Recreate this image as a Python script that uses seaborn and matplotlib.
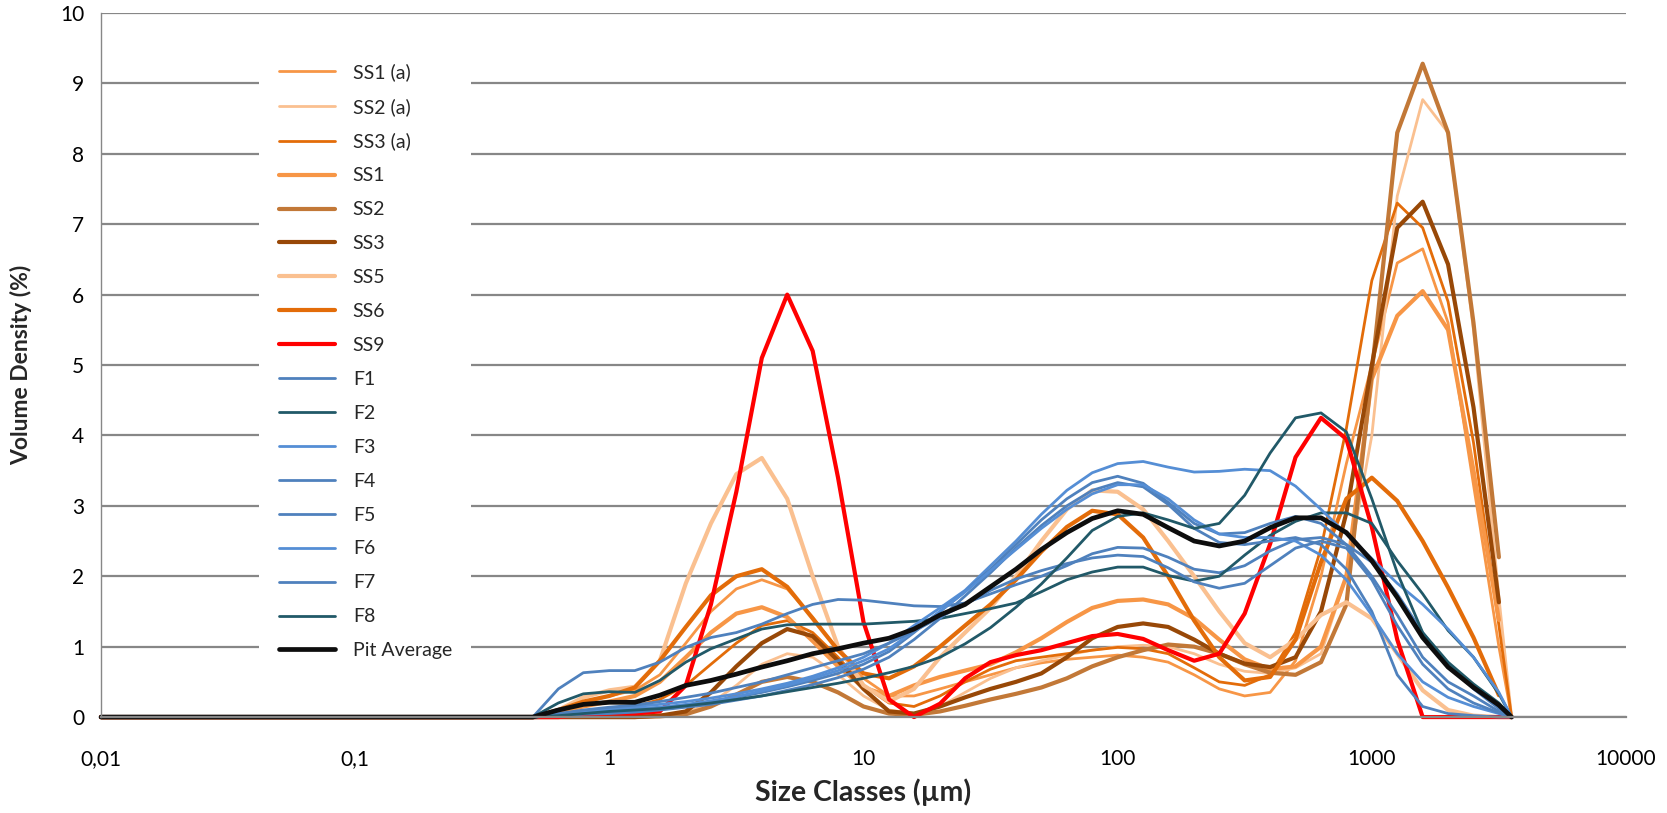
import numpy as np
import pandas as pd
import matplotlib
matplotlib.use("Agg")
import matplotlib.pyplot as plt
from matplotlib.ticker import NullLocator
import seaborn as sns

nan = np.nan

# size classes (µm)
size_classes = [0.01, 0.5, 0.63, 0.79,
                1.0, 1.26, 1.58, 2.0, 2.51, 3.16, 3.98, 5.01, 6.31, 7.94,
                10.0, 12.6, 15.8, 20.0, 25.1, 31.6, 39.8, 50.1, 63.1, 79.4,
                100, 126, 158, 200, 251, 316, 398, 501, 631, 794,
                1000, 1259, 1585, 1995, 2512, 3162, 3548]

# volume density (%)
ss1a = [0, 0, 0.08, 0.2,
        0.3, 0.38, 0.6, 1.05, 1.5, 1.82, 1.95, 1.82, 1.42, 0.95,
        0.55, 0.3, 0.3, 0.4, 0.5, 0.6, 0.7, 0.77, 0.82, 0.85,
        0.88, 0.85, 0.78, 0.6, 0.4, 0.3, 0.35, 0.8, 2.0, 3.6,
        5.0, 6.45, 6.65, 5.6, 3.3, 1.0, 0]
ss2a = [0, 0, 0, 0,
        0, 0.02, 0.03, 0.06, 0.2, 0.45, 0.75, 0.9, 0.85, 0.6,
        0.3, 0.1, 0.05, 0.15, 0.35, 0.55, 0.7, 0.8, 0.88, 0.95,
        1.0, 1.02, 1.0, 0.9, 0.75, 0.65, 0.62, 0.7, 0.9, 2.0,
        4.0, 7.4, 8.77, 8.3, 5.5, 1.7, 0]
ss3a = [0, 0, 0.03, 0.06,
        0.1, 0.15, 0.25, 0.45, 0.75, 1.05, 1.3, 1.37, 1.2, 0.85,
        0.45, 0.2, 0.15, 0.3, 0.5, 0.68, 0.8, 0.85, 0.9, 0.95,
        0.99, 0.97, 0.9, 0.7, 0.5, 0.45, 0.6, 1.2, 2.4, 4.1,
        6.2, 7.3, 6.95, 5.9, 3.9, 1.3, 0]
ss1 = [0, 0, 0.07, 0.15,
       0.22, 0.3, 0.5, 0.85, 1.2, 1.47, 1.56, 1.42, 1.08, 0.72,
       0.42, 0.3, 0.45, 0.57, 0.66, 0.75, 0.92, 1.12, 1.35, 1.55,
       1.65, 1.67, 1.6, 1.4, 1.1, 0.82, 0.68, 0.72, 1.0, 2.0,
       4.8, 5.7, 6.05, 5.5, 3.5, 1.38, nan]
ss2 = [0, 0, 0, 0,
       0, 0, 0.01, 0.04, 0.15, 0.32, 0.5, 0.57, 0.5, 0.35,
       0.15, 0.05, 0.03, 0.08, 0.16, 0.25, 0.33, 0.42, 0.55, 0.72,
       0.85, 0.95, 1.03, 1.0, 0.9, 0.75, 0.63, 0.6, 0.78, 1.6,
       4.9, 8.3, 9.28, 8.3, 5.6, 2.27, nan]
ss3 = [0, 0, 0, 0,
       0, 0, 0.02, 0.08, 0.35, 0.72, 1.05, 1.25, 1.15, 0.8,
       0.4, 0.08, 0.05, 0.15, 0.28, 0.4, 0.5, 0.62, 0.85, 1.12,
       1.28, 1.33, 1.28, 1.1, 0.9, 0.76, 0.71, 0.85, 1.5, 2.9,
       5.0, 6.95, 7.32, 6.43, 4.4, 1.63, nan]
ss5 = [0, 0, 0.1, 0.28,
       0.38, 0.43, 0.8, 1.9, 2.75, 3.45, 3.68, 3.1, 2.0, 1.0,
       0.45, 0.22, 0.4, 0.85, 1.2, 1.55, 2.0, 2.5, 2.95, 3.22,
       3.2, 2.95, 2.5, 2.0, 1.5, 1.05, 0.85, 1.1, 1.45, 1.63,
       1.4, 0.9, 0.38, 0.1, 0.02, 0, 0]
ss6 = [0, 0, 0.1, 0.22,
       0.3, 0.42, 0.8, 1.28, 1.73, 2.0, 2.1, 1.85, 1.4, 0.95,
       0.62, 0.55, 0.72, 1.0, 1.3, 1.6, 1.95, 2.35, 2.7, 2.93,
       2.88, 2.55, 2.0, 1.37, 0.85, 0.52, 0.57, 1.1, 2.2, 3.1,
       3.4, 3.07, 2.5, 1.84, 1.13, 0.31, nan]
ss9 = [0, 0, 0, 0.03,
       0.05, 0.05, 0.08, 0.45, 1.6, 3.2, 5.1, 6.0, 5.2, 3.4,
       1.35, 0.25, 0, 0.19, 0.55, 0.78, 0.88, 0.95, 1.05, 1.15,
       1.18, 1.11, 0.95, 0.8, 0.9, 1.47, 2.46, 3.69, 4.25, 3.95,
       2.7, 1.1, 0, 0, 0, 0, 0]
f1 = [0, 0, 0.4, 0.63,
      0.66, 0.66, 0.78, 0.99, 1.13, 1.2, 1.32, 1.47, 1.6, 1.67,
      1.66, 1.62, 1.58, 1.57, 1.62, 1.75, 1.88, 2.0, 2.15, 2.32,
      2.41, 2.4, 2.27, 2.1, 2.05, 2.15, 2.36, 2.52, 2.55, 2.45,
      2.2, 1.75, 1.2, 0.75, 0.4, 0.12, 0]
f2 = [0, 0, 0.2, 0.33,
      0.36, 0.35, 0.52, 0.78, 0.97, 1.11, 1.25, 1.31, 1.32, 1.32,
      1.32, 1.34, 1.36, 1.4, 1.47, 1.54, 1.62, 1.78, 1.95, 2.06,
      2.13, 2.13, 2.01, 1.93, 2.0, 2.3, 2.58, 2.78, 2.9, 2.9,
      2.75, 2.22, 1.75, 1.23, 0.85, 0.33, 0]
f3 = [0, 0, 0.04, 0.08,
      0.12, 0.15, 0.18, 0.22, 0.27, 0.33, 0.4, 0.48, 0.58, 0.7,
      0.85, 1.05, 1.3, 1.55, 1.8, 2.15, 2.5, 2.88, 3.22, 3.47,
      3.6, 3.63, 3.55, 3.48, 3.49, 3.52, 3.5, 3.28, 2.95, 2.6,
      2.25, 1.9, 1.6, 1.25, 0.85, 0.35, 0]
f4 = [0, 0, 0.03, 0.06,
      0.08, 0.1, 0.12, 0.16, 0.22, 0.28, 0.35, 0.43, 0.52, 0.62,
      0.75, 0.93, 1.2, 1.5, 1.78, 2.1, 2.45, 2.8, 3.1, 3.33,
      3.42, 3.32, 3.05, 2.75, 2.6, 2.62, 2.75, 2.85, 2.75, 2.45,
      2.0, 1.45, 0.85, 0.5, 0.3, 0.08, 0]
f5 = [0, 0, 0.02, 0.04,
      0.05, 0.07, 0.1, 0.14, 0.18, 0.24, 0.3, 0.38, 0.46, 0.56,
      0.68, 0.85, 1.1, 1.4, 1.72, 2.05, 2.4, 2.72, 3.0, 3.22,
      3.33, 3.27, 3.02, 2.68, 2.48, 2.45, 2.5, 2.55, 2.45, 2.1,
      1.5, 0.6, 0.15, 0.05, 0.02, 0, 0]
f6 = [0, 0, 0.03, 0.07,
      0.1, 0.12, 0.14, 0.18, 0.23, 0.29, 0.37, 0.45, 0.55, 0.66,
      0.8, 0.97, 1.22, 1.5, 1.78, 2.08, 2.38, 2.68, 2.95, 3.17,
      3.3, 3.3, 3.1, 2.8, 2.6, 2.55, 2.55, 2.5, 2.3, 1.95,
      1.45, 0.9, 0.5, 0.28, 0.15, 0.05, 0]
f7 = [0, 0, 0.05, 0.1,
      0.14, 0.17, 0.22, 0.28, 0.34, 0.42, 0.5, 0.6, 0.7, 0.8,
      0.9, 1.05, 1.22, 1.42, 1.6, 1.8, 1.96, 2.08, 2.18, 2.26,
      2.3, 2.28, 2.12, 1.92, 1.83, 1.9, 2.15, 2.4, 2.5, 2.4,
      1.95, 1.3, 0.75, 0.4, 0.2, 0.06, 0]
f8 = [0, 0, 0.02, 0.05,
      0.08, 0.1, 0.12, 0.16, 0.2, 0.25, 0.3, 0.36, 0.42, 0.48,
      0.55, 0.63, 0.72, 0.85, 1.04, 1.27, 1.56, 1.89, 2.26, 2.65,
      2.85, 2.9, 2.8, 2.68, 2.75, 3.15, 3.75, 4.25, 4.32, 4.05,
      3.1, 2.05, 1.2, 0.78, 0.47, 0.2, 0]
pit_avg = [0, 0, 0.1, 0.18,
           0.21, 0.21, 0.31, 0.45, 0.52, 0.61, 0.71, 0.8, 0.9, 0.97,
           1.05, 1.12, 1.25, 1.45, 1.6, 1.85, 2.1, 2.38, 2.62, 2.82,
           2.93, 2.88, 2.69, 2.5, 2.43, 2.5, 2.69, 2.83, 2.83, 2.62,
           2.22, 1.7, 1.13, 0.71, 0.42, 0.17, 0]

series = [
    ("SS1 (a)", ss1a, "#F79646", 2.0),
    ("SS2 (a)", ss2a, "#FAC090", 2.0),
    ("SS3 (a)", ss3a, "#E36C09", 2.0),
    ("SS1", ss1, "#F79646", 3.0),
    ("SS2", ss2, "#C27837", 3.0),
    ("SS3", ss3, "#984807", 3.0),
    ("SS5", ss5, "#FAC090", 3.0),
    ("SS6", ss6, "#E36C09", 3.0),
    ("SS9", ss9, "#FF0000", 3.0),
    ("F1", f1, "#4F81BD", 2.0),
    ("F2", f2, "#215968", 2.0),
    ("F3", f3, "#558ED5", 2.0),
    ("F4", f4, "#4F81BD", 2.0),
    ("F5", f5, "#4F81BD", 2.0),
    ("F6", f6, "#558ED5", 2.0),
    ("F7", f7, "#4F81BD", 2.0),
    ("F8", f8, "#215968", 2.0),
    ("Pit Average", pit_avg, "#0D0D0D", 3.4),
]

sns.set_theme(style="white")
plt.rcParams["font.family"] = ["Lato", "DejaVu Sans"]

fig = plt.figure(figsize=(16.67, 8.13), dpi=100)
ax = fig.add_axes([0.0606, 0.118, 0.9148, 0.866])
ax.set_xscale("log")

for name, vals, col, lw in series:
    sns.lineplot(x=size_classes, y=vals, color=col, linewidth=lw,
                 label=name, estimator=None, sort=False, ax=ax)

for line in ax.lines:
    line.set_clip_on(False)
    line.set_solid_capstyle("round")
    line.set_solid_joinstyle("round")

ax.set_xlim(0.01, 10000)
ax.set_ylim(0, 10)
ax.set_yticks(range(0, 11))
ax.set_xticks([0.01, 0.1, 1, 10, 100, 1000, 10000])
ax.set_xticklabels(["0,01", "0,1", "1", "10", "100", "1000", "10000"])
ax.xaxis.set_minor_locator(NullLocator())
ax.tick_params(axis="both", length=0, labelsize=15, colors="#000000")
ax.tick_params(axis="x", pad=23)
ax.tick_params(axis="y", pad=12)

ax.set_axisbelow(True)
ax.yaxis.grid(True, color="#878787", linewidth=1.6)
ax.xaxis.grid(False)
for s in ["top", "right"]:
    ax.spines[s].set_visible(False)
ax.spines["left"].set_color("#878787")
ax.spines["left"].set_linewidth(1.0)
ax.spines["bottom"].set_color("#878787")
ax.spines["bottom"].set_linewidth(1.6)

ax.set_xlabel("Size Classes (µm)", fontsize=20.5, fontweight="bold")
ax.set_ylabel("Volume Density (%)", fontsize=16.5, fontweight="bold")
ax.xaxis.set_label_coords(0.5, -0.087)
ax.yaxis.set_label_coords(-0.045, 0.5)

leg = ax.legend(loc="upper left", bbox_to_anchor=(0.1039, 0.9567),
                frameon=True, facecolor="white", edgecolor="none",
                framealpha=1, fancybox=False, fontsize=14,
                handlelength=2.9, handletextpad=0.9, labelspacing=0.87,
                borderpad=1.0, borderaxespad=0)

fig.savefig("out.png", dpi=100)
